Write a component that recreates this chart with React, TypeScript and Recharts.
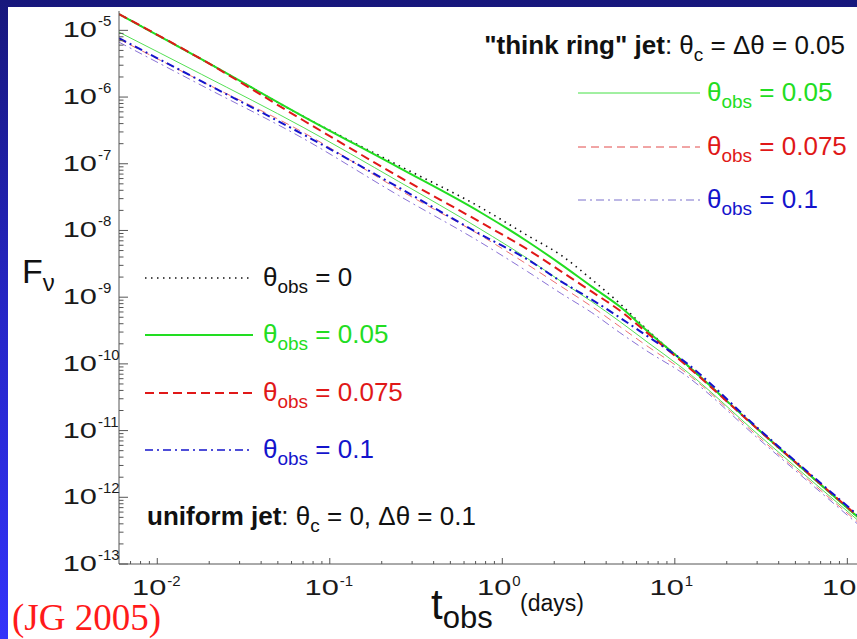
import { LineChart, Line, XAxis, YAxis } from 'recharts';

// observer time (days)
const tDays = [0.006, 0.018, 0.07, 0.25, 0.75, 1.4, 2.2, 3.3, 4.8, 7, 11, 31, 120];

// uniform jet: theta_c = 0, dtheta = 0.1
const uniObs0 = [1.75e-5, 3.7e-6, 5.15e-7, 9.46e-8, 2.21e-8, 8.41e-9, 4.22e-9, 1.84e-9, 8.02e-10, 3.15e-10, 1.12e-10, 9.93e-12, 4.58e-13];
const uniObs005 = [1.75e-5, 3.7e-6, 5.15e-7, 8.83e-8, 1.86e-8, 6.84e-9, 3.08e-9, 1.44e-9, 7.23e-10, 3.04e-10, 1.12e-10, 9.93e-12, 4.58e-13];
const uniObs0075 = [1.75e-5, 3.7e-6, 4.49e-7, 6.47e-8, 1.32e-8, 5.19e-9, 2.42e-9, 1.21e-9, 6.3e-10, 2.84e-10, 1.08e-10, 9.93e-12, 4.74e-13];
const uniObs01 = [7.64e-6, 1.73e-6, 2.76e-7, 4.43e-8, 8.71e-9, 3.67e-9, 1.71e-9, 9.2e-10, 4.94e-10, 2.56e-10, 1.16e-10, 1.03e-11, 4.91e-13];

// "thin ring" jet: theta_c = dtheta = 0.05
const ringObs005 = [9.4e-6, 2.2e-6, 3.52e-7, 5.45e-8, 1.04e-8, 3.8e-9, 1.71e-9, 8.59e-10, 4.31e-10, 2.08e-10, 8.77e-11, 8.36e-12, 4.13e-13];
const ringObs0075 = [7.38e-6, 1.73e-6, 2.96e-7, 4.13e-8, 8.41e-9, 3.08e-9, 1.44e-9, 7.23e-10, 3.62e-10, 1.81e-10, 8.18e-11, 7.8e-12, 3.86e-13];
const ringObs01 = [6.65e-6, 1.5e-6, 2.4e-7, 3.36e-8, 6.61e-9, 2.42e-9, 1.13e-9, 5.87e-10, 2.94e-10, 1.52e-10, 7.38e-11, 7.28e-12, 3.6e-13];

// log axis decades
const xDecades = [-3, -2, -1, 0, 1, 2];
const yDecades = [-13, -12, -11, -10, -9, -8, -7, -6, -5];
const xDomain = [0.006, 120];
const yDomain = [1e-13, 1.95e-5];

const logTicks = (decades: number[], lo: number, hi: number) => {
  const out: number[] = [];
  decades.forEach((d) => {
    for (let m = 1; m <= 9; m++) {
      const v = m * Math.pow(10, d);
      if (v >= lo * 0.9999 && v <= hi * 1.0001) out.push(v);
    }
  });
  return out;
};
const xTicks = logTicks(xDecades, xDomain[0] * 1.01, xDomain[1]);
const yTicks = logTicks(yDecades, yDomain[0], yDomain[1]);

const rows = tDays.map((t, i) => ({
  t,
  u0: uniObs0[i],
  u005: uniObs005[i],
  u0075: uniObs0075[i],
  u01: uniObs01[i],
  r005: ringObs005[i],
  r0075: ringObs0075[i],
  r01: ringObs01[i],
}));

const FONT = '"Liberation Sans", Arial, Helvetica, sans-serif';
const AXIS = '#555';
const GREEN = '#22dd22';
const RED = '#e01818';
const BLUE = '#1414cc';

const isMajor = (v: number) => Math.abs(Math.log10(v) - Math.round(Math.log10(v))) < 1e-6;
const expOf = (v: number) => String(Math.round(Math.log10(v)));

function BottomTick(props: any) {
  const { x, y, payload } = props;
  const major = isMajor(payload.value);
  return (
    <g>
      <line x1={x} x2={x} y1={y} y2={y - (major ? 6 : 3)} stroke={AXIS} />
      {major && (
        <g fontFamily={FONT} fill="#1a1a1a">
          <text transform={`translate(${x + 9},${y + 31}) scale(1.4,1)`} textAnchor="end" fontSize={22}>
            10
          </text>
          <text x={x + 10} y={y + 22} fontSize={15}>
            {expOf(payload.value)}
          </text>
        </g>
      )}
    </g>
  );
}

function TopTick(props: any) {
  const { x, y, payload } = props;
  const major = isMajor(payload.value);
  return <line x1={x} x2={x} y1={y} y2={y + (major ? 6 : 3)} stroke={AXIS} />;
}

function LeftTick(props: any) {
  const { x, y, payload } = props;
  const major = isMajor(payload.value);
  return (
    <g>
      <line x1={x} x2={x + (major ? 9 : 4.5)} y1={y} y2={y} stroke={AXIS} />
      {major && (
        <g fontFamily={FONT} fill="#1a1a1a">
          <text transform={`translate(${x - 22},${y + 7}) scale(1.4,1)`} textAnchor="end" fontSize={22}>
            10
          </text>
          <text x={x - 21} y={y - 4} fontSize={15}>
            {expOf(payload.value)}
          </text>
        </g>
      )}
    </g>
  );
}

function RightTick(props: any) {
  const { x, y, payload } = props;
  const major = isMajor(payload.value);
  return <line x1={x} x2={x - (major ? 9 : 4.5)} y1={y} y2={y} stroke={AXIS} />;
}

function ObsLabel({ x, y, value, color }: { x: number; y: number; value: string; color: string }) {
  return (
    <text x={x} y={y} fill={color} fontSize={26} fontFamily={FONT}>
      θ
      <tspan fontSize={19} dy={7}>
        obs
      </tspan>
      <tspan dy={-7}> = {value}</tspan>
    </text>
  );
}

// legend samples for the uniform jet (left) and the ring jet (right)
const leftLegend = [
  { value: '0', color: '#111', line: '#111', width: 1.6, dash: '1.5 4.5', y: 278 },
  { value: '0.05', color: GREEN, line: GREEN, width: 2, dash: undefined, y: 335 },
  { value: '0.075', color: RED, line: RED, width: 2, dash: '9 5', y: 393 },
  { value: '0.1', color: BLUE, line: BLUE, width: 1.6, dash: '8 4 2 4', y: 450 },
];
const rightLegend = [
  { value: '0.05', color: GREEN, line: '#44e044', width: 1, dash: undefined, y: 93 },
  { value: '0.075', color: RED, line: '#e24a4a', width: 1, dash: '8 5', y: 147 },
  { value: '0.1', color: BLUE, line: '#7a70cc', width: 1, dash: '8 4 2 4', y: 200 },
];

export default function App() {
  return (
    <div
      style={{
        position: 'absolute',
        left: 0,
        top: 0,
        width: 857,
        height: 639,
        overflow: 'hidden',
        background: 'linear-gradient(to bottom, #17177c 0%, #2626c8 50%, #3333fa 100%)',
      }}
    >
      <div style={{ position: 'absolute', left: 8, top: 7, width: 849, height: 632, background: '#fff' }} />
      <div style={{ position: 'absolute', left: 0, top: 0 }}>
        <LineChart width={870} height={639} data={rows} margin={{ top: 11, right: 9, bottom: 0, left: 0 }}>
          <XAxis
            xAxisId="b"
            dataKey="t"
            type="number"
            scale="log"
            domain={xDomain}
            allowDataOverflow
            ticks={xTicks}
            interval={0}
            tickSize={0}
            tickMargin={0}
            tickLine={false}
            tick={BottomTick}
            axisLine={{ stroke: AXIS }}
            height={75}
          />
          <XAxis
            xAxisId="t"
            orientation="top"
            dataKey="t"
            type="number"
            scale="log"
            domain={xDomain}
            allowDataOverflow
            ticks={xTicks}
            interval={0}
            tickSize={0}
            tickMargin={0}
            tickLine={false}
            tick={TopTick}
            axisLine={{ stroke: AXIS }}
            height={0}
          />
          <YAxis
            yAxisId="l"
            type="number"
            scale="log"
            domain={yDomain}
            allowDataOverflow
            ticks={yTicks}
            interval={0}
            tickSize={0}
            tickMargin={0}
            tickLine={false}
            tick={LeftTick}
            axisLine={{ stroke: AXIS }}
            width={119}
          />
          <YAxis
            yAxisId="r"
            orientation="right"
            type="number"
            scale="log"
            domain={yDomain}
            allowDataOverflow
            ticks={yTicks}
            interval={0}
            tickSize={0}
            tickMargin={0}
            tickLine={false}
            tick={RightTick}
            axisLine={{ stroke: AXIS }}
            width={0}
          />
          <Line xAxisId="b" yAxisId="l" type="monotone" dataKey="r01" stroke="#8a72d6" strokeWidth={1} strokeDasharray="8 4 2 4" dot={false} isAnimationActive={false} />
          <Line xAxisId="b" yAxisId="l" type="monotone" dataKey="r0075" stroke="#ee7070" strokeWidth={1} strokeDasharray="8 5" dot={false} isAnimationActive={false} />
          <Line xAxisId="b" yAxisId="l" type="monotone" dataKey="r005" stroke="#55e055" strokeWidth={1} dot={false} isAnimationActive={false} />
          <Line xAxisId="b" yAxisId="l" type="monotone" dataKey="u0" stroke="#111" strokeWidth={1.6} strokeDasharray="1.5 4.5" dot={false} isAnimationActive={false} />
          <Line xAxisId="b" yAxisId="l" type="monotone" dataKey="u005" stroke={GREEN} strokeWidth={2} dot={false} isAnimationActive={false} />
          <Line xAxisId="b" yAxisId="l" type="monotone" dataKey="u0075" stroke={RED} strokeWidth={2} strokeDasharray="9 5" dot={false} isAnimationActive={false} />
          <Line xAxisId="b" yAxisId="l" type="monotone" dataKey="u01" stroke={BLUE} strokeWidth={2} strokeDasharray="8 4 2 4" dot={false} isAnimationActive={false} />
        </LineChart>
      </div>
      <svg width={857} height={639} style={{ position: 'absolute', left: 0, top: 0, pointerEvents: 'none' }}>
        <text x={845} y={54} textAnchor="end" fontSize={26} fontFamily={FONT} fill="#111">
          <tspan fontWeight="bold">"think ring" jet</tspan>
          <tspan>: θ</tspan>
          <tspan fontSize={19} dy={7}>c</tspan>
          <tspan dy={-7}> = Δθ = 0.05</tspan>
        </text>
        {rightLegend.map((r) => (
          <g key={r.value}>
            <line x1={578} x2={700} y1={r.y} y2={r.y} stroke={r.line} strokeWidth={r.width} strokeDasharray={r.dash} />
            <ObsLabel x={707} y={r.y + 8} value={r.value} color={r.color} />
          </g>
        ))}
        {leftLegend.map((r) => (
          <g key={r.value}>
            <line x1={145} x2={253} y1={r.y} y2={r.y} stroke={r.line} strokeWidth={r.width} strokeDasharray={r.dash} />
            <ObsLabel x={263} y={r.y + 8} value={r.value} color={r.color} />
          </g>
        ))}
        <text x={147} y={525} fontSize={26} fontFamily={FONT} fill="#111">
          <tspan fontWeight="bold">uniform jet</tspan>
          <tspan>: θ</tspan>
          <tspan fontSize={19} dy={7}>c</tspan>
          <tspan dy={-7}> = 0, Δθ = 0.1</tspan>
        </text>
        <text x={22} y={283} fontSize={34} fontFamily={FONT} fill="#111">
          F
          <tspan fontSize={24} dy={8}>ν</tspan>
        </text>
        <text x={431} y={619} fontSize={42} fontFamily={FONT} fill="#111">
          t
          <tspan fontSize={31} dy={9}>obs</tspan>
        </text>
        <text x={520} y={611} fontSize={23} fontFamily={FONT} fill="#111">
          (days)
        </text>
        <text x={12} y={630} fontSize={37} fontFamily='"Liberation Serif", "Times New Roman", serif' fill="#ff1a1a">
          (JG 2005)
        </text>
      </svg>
    </div>
  );
}
